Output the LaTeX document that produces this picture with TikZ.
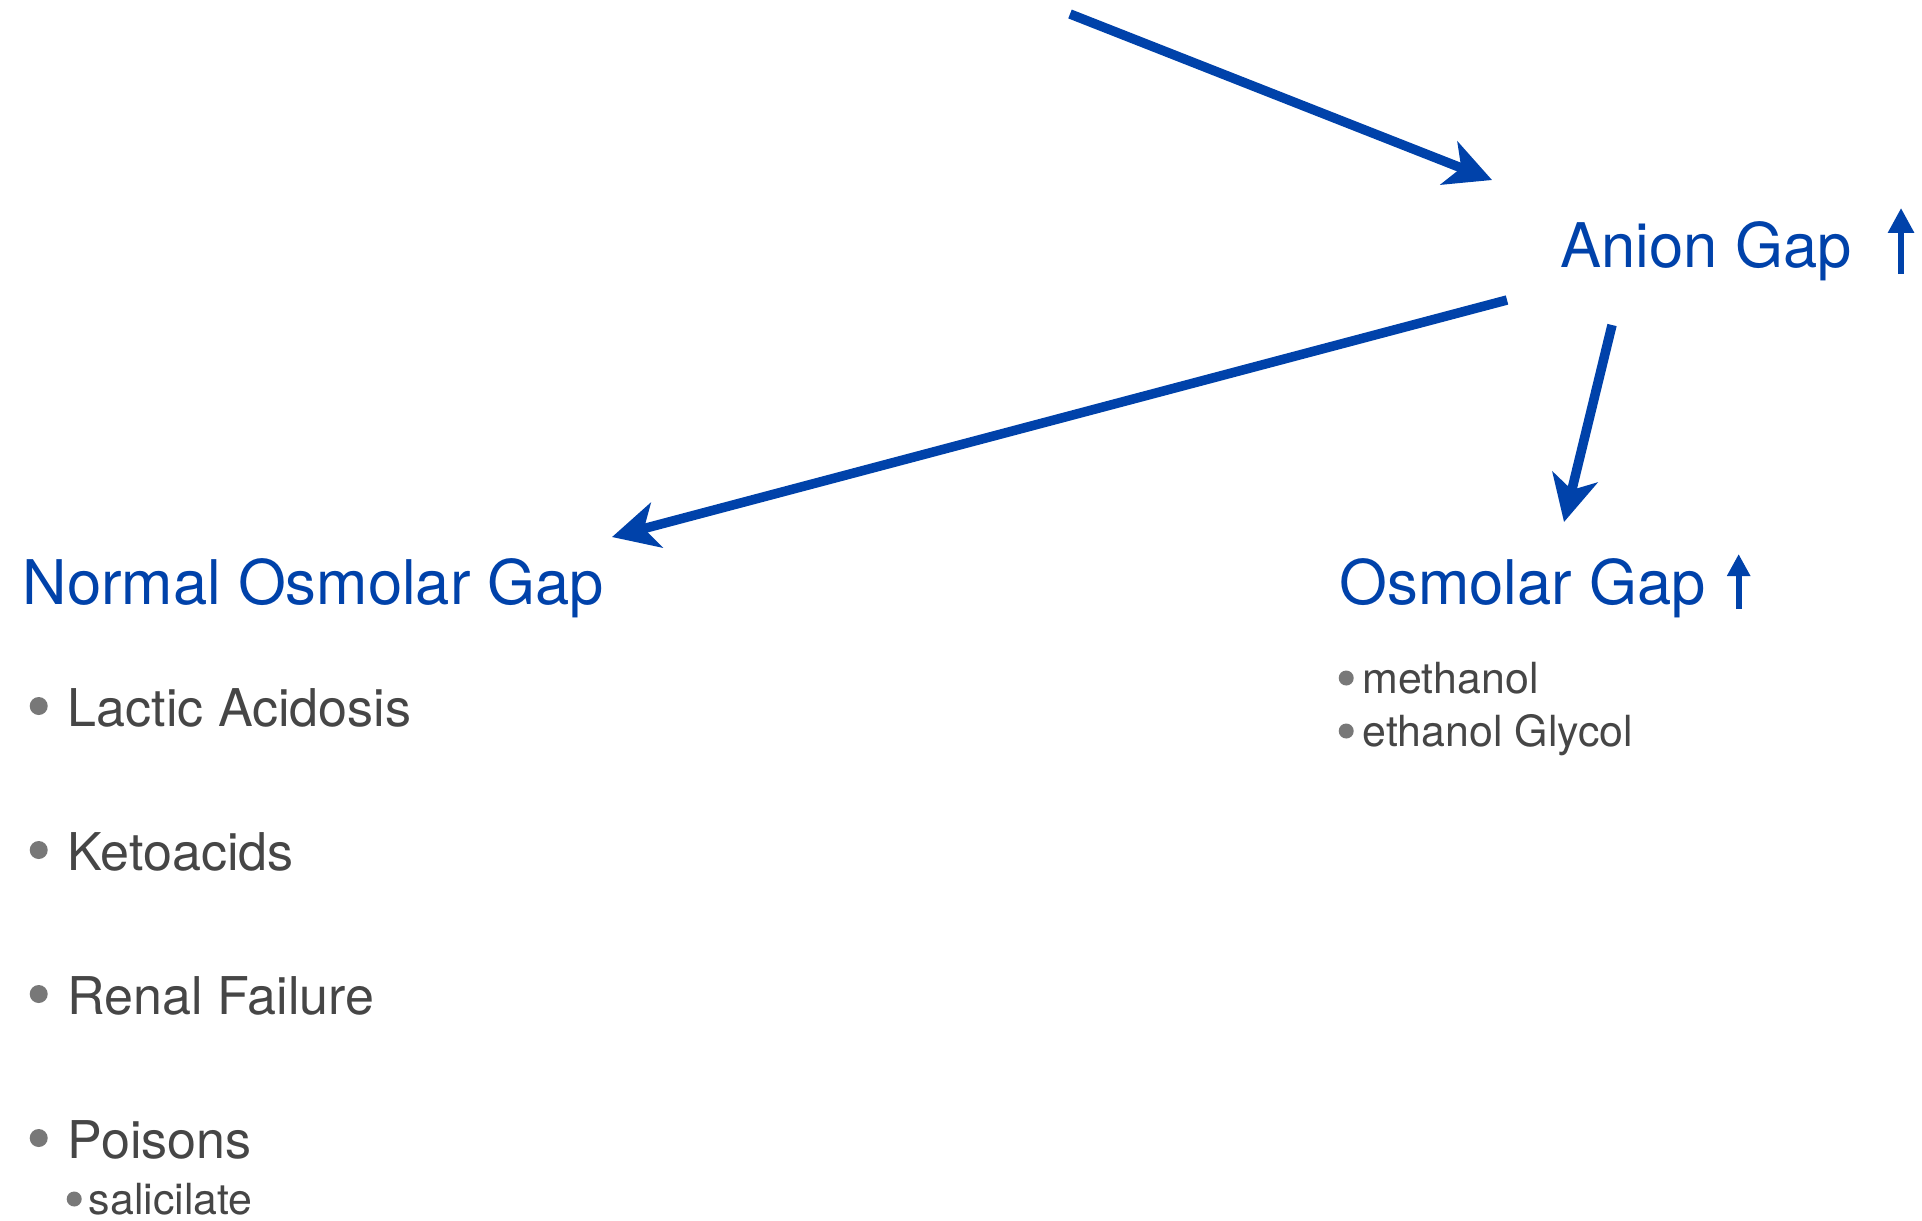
\documentclass[tikz,border=0pt]{standalone}
\usepackage{fontspec}
\setmainfont{TeX Gyre Heros}
\usepackage{tikz}
\usetikzlibrary{arrows.meta}

\definecolor{gapblue}{RGB}{0,66,170}
\definecolor{itemgray}{RGB}{70,70,70}
\definecolor{bulletgray}{RGB}{120,120,120}

\newcommand{\uparr}[3]{\tikz[baseline=0pt]\draw[gapblue,line width=1.7pt,-{Triangle[length=#3,width=#3]}] (0pt,#1) -- (0pt,#2);}
\newcommand{\bul}[2]{\tikz[baseline=0pt]\fill[bulletgray] (0pt,#2) circle (#1);}

\begin{document}
\begin{tikzpicture}[x=0.01cm,y=-0.01cm,
        header/.style={
            anchor=base west,
            inner sep=0pt,
            text=gapblue,
            font=\fontsize{17.5pt}{21pt}\selectfont
        },
        item/.style={
            anchor=base west,
            inner sep=0pt,
            text=itemgray,
            font=\fontsize{14.8pt}{18pt}\selectfont
        },
        subitem/.style={
            anchor=base west,
            inner sep=0pt,
            text=itemgray,
            font=\fontsize{12.2pt}{15pt}\selectfont
        },
        arrow/.style={
            -{Stealth[length=0.46cm,width=0.46cm,inset=0.13cm]},
            gapblue,
            line width=2.7pt
        }
    ]

    \fill[white] (0,0) rectangle (1922,1220);

    \node[header] (anion) at (1560,267) {Anion Gap\hspace{0.37cm}\uparr{-0.07cm}{0.59cm}{0.25cm}};
    \node[header] (normal) at (22,604) {Normal Osmolar Gap};
    \node[header] (osmolar) at (1339,604) {Osmolar Gap\hspace{0.22cm}\uparr{-0.05cm}{0.5cm}{0.22cm}};

    % normal osmolar gap
    \node[item] (lactic) at (29,726) {\bul{0.09cm}{0.2cm}\hspace{0.2cm}Lactic Acidosis};
    \node[item] (keto) at (29,870) {\bul{0.09cm}{0.2cm}\hspace{0.2cm}Ketoacids};
    \node[item] (renal) at (29,1014) {\bul{0.09cm}{0.2cm}\hspace{0.2cm}Renal Failure};
    \node[item] (poisons) at (29,1158) {\bul{0.09cm}{0.2cm}\hspace{0.2cm}Poisons};
    \node[subitem] (salicilate) at (66,1214) {\bul{0.075cm}{0.15cm}\hspace{0.07cm}salicilate};

    % osmolar gap up
    \node[subitem] (methanol) at (1338,693) {\bul{0.075cm}{0.15cm}\hspace{0.09cm}methanol};
    \node[subitem] (glycol) at (1338,746) {\bul{0.075cm}{0.15cm}\hspace{0.09cm}ethanol Glycol};

    \coordinate (src) at (1070,14);

    \draw[arrow] (src) -- ([shift={(-68,-87)}]anion.base west);
    \draw[arrow] ([shift={(-53,33)}]anion.base west) -- ([shift={(590,-67)}]normal.base west);
    \draw[arrow] ([shift={(52,58)}]anion.base west) -- ([shift={(225,-82)}]osmolar.base west);

\end{tikzpicture}
\end{document}
